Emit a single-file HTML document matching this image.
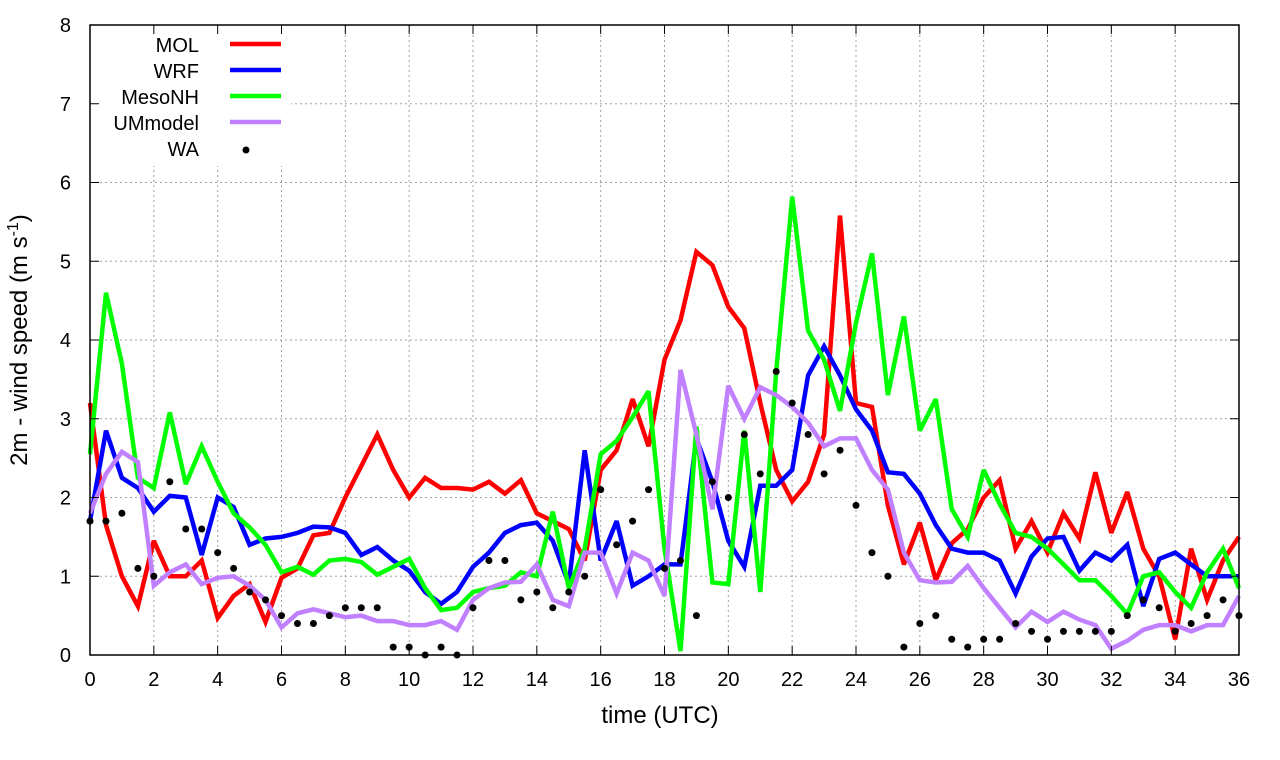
<!DOCTYPE html>
<html><head><meta charset="utf-8"><style>
html,body{margin:0;padding:0;background:#fff;}
svg{display:block;font-family:"Liberation Sans",sans-serif;}
</style></head><body>
<svg id="chart" width="1280" height="760" viewBox="0 0 1280 760" xmlns="http://www.w3.org/2000/svg">
<g id="grid"></g>
<g id="series"></g>
<g id="axes"></g>
<g id="legend"></g>
<text x="660" y="723" font-size="24" text-anchor="middle">time (UTC)</text>
<text transform="translate(27,340) rotate(-90)" font-size="24" text-anchor="middle">2m - wind speed  (m s<tspan dy="-9" font-size="16">-1</tspan><tspan dy="9">)</tspan></text>
</svg>
<script>
const xTicks=[0,2,4,6,8,10,12,14,16,18,20,22,24,26,28,30,32,34,36];
const yTicks=[0,1,2,3,4,5,6,7,8];
const seriesNames=["MOL","WRF","MesoNH","UMmodel"];
const seriesColors=["#ff0000","#0000ff","#00ff00","#c080ff"];
const MOL=[3.2,1.65,1.0,0.62,1.45,1.0,1.0,1.2,0.47,0.75,0.9,0.42,0.98,1.1,1.52,1.55,2.0,2.4,2.8,2.35,2.0,2.25,2.12,2.12,2.1,2.2,2.05,2.22,1.8,1.7,1.6,1.2,2.35,2.6,3.25,2.65,3.75,4.25,5.12,4.95,4.42,4.15,3.2,2.35,1.95,2.2,2.8,5.58,3.2,3.15,1.9,1.15,1.68,0.95,1.42,1.6,2.0,2.22,1.35,1.7,1.3,1.8,1.48,2.32,1.55,2.07,1.35,1.0,0.2,1.35,0.7,1.2,1.5];
const WRF=[1.7,2.85,2.25,2.12,1.82,2.02,2.0,1.27,2.0,1.88,1.4,1.48,1.5,1.55,1.63,1.62,1.55,1.27,1.37,1.2,1.07,0.8,0.65,0.8,1.12,1.3,1.55,1.65,1.68,1.45,0.9,2.6,1.2,1.7,0.88,1.0,1.15,1.15,2.75,2.2,1.45,1.12,2.15,2.15,2.35,3.55,3.92,3.55,3.12,2.85,2.32,2.3,2.05,1.65,1.35,1.3,1.3,1.2,0.78,1.25,1.48,1.5,1.07,1.3,1.2,1.4,0.62,1.22,1.3,1.15,1.0,1.0,1.0];
const MesoNH=[2.55,4.6,3.7,2.25,2.12,3.08,2.17,2.65,2.2,1.8,1.62,1.4,1.05,1.12,1.02,1.2,1.22,1.18,1.02,1.12,1.22,0.85,0.57,0.6,0.8,0.85,0.88,1.05,1.0,1.82,0.85,1.35,2.55,2.72,3.02,3.35,1.35,0.05,2.9,0.92,0.9,2.85,0.8,3.6,5.82,4.12,3.75,3.1,4.22,5.1,3.3,4.3,2.85,3.25,1.85,1.5,2.35,1.92,1.55,1.5,1.35,1.15,0.95,0.95,0.75,0.52,1.0,1.05,0.8,0.6,1.05,1.35,0.85];
const UMmodel=[1.8,2.3,2.58,2.45,0.88,1.05,1.15,0.9,0.98,1.0,0.88,0.7,0.35,0.53,0.58,0.53,0.48,0.5,0.43,0.43,0.38,0.38,0.43,0.32,0.7,0.85,0.92,0.93,1.15,0.7,0.62,1.3,1.3,0.78,1.3,1.2,0.75,3.62,2.8,1.85,3.42,3.0,3.4,3.3,3.15,2.95,2.65,2.75,2.75,2.35,2.1,1.3,0.95,0.92,0.93,1.13,0.85,0.6,0.35,0.55,0.42,0.55,0.45,0.38,0.08,0.18,0.32,0.38,0.38,0.3,0.38,0.38,0.75];
const WA=[1.7,1.7,1.8,1.1,1.0,2.2,1.6,1.6,1.3,1.1,0.8,0.7,0.5,0.4,0.4,0.5,0.6,0.6,0.6,0.1,0.1,0,0.1,0,0.6,1.2,1.2,0.7,0.8,0.6,0.8,1.0,2.1,1.4,1.7,2.1,1.1,1.2,0.5,2.2,2.0,2.8,2.3,3.6,3.2,2.8,2.3,2.6,1.9,1.3,1.0,0.1,0.4,0.5,0.2,0.1,0.2,0.2,0.4,0.3,0.2,0.3,0.3,0.3,0.3,0.5,0.7,0.6,0.3,0.4,0.5,0.7,0.5];
const seriesData=[MOL,WRF,MesoNH,UMmodel];

const NS="http://www.w3.org/2000/svg";
const L=90,R=1239,T=25,B=655;
function sx(t){return L+(R-L)*t/36;}
function sy(v){return B-(B-T)*v/8;}
function mk(tag,attrs,parent){const e=document.createElementNS(NS,tag);for(const k in attrs)e.setAttribute(k,attrs[k]);parent.appendChild(e);return e;}
const grid=document.getElementById('grid'),axes=document.getElementById('axes'),ser=document.getElementById('series'),leg=document.getElementById('legend');

xTicks.forEach(t=>{
  const g=mk('line',{x1:sx(t),x2:sx(t),y1:T,y2:B,stroke:'#a0a0a0','stroke-width':1,'stroke-dasharray':'2,3'},grid);
  
  
  mk('line',{x1:sx(t),x2:sx(t),y1:B,y2:B-9,stroke:'#000','stroke-width':1},axes);
  mk('line',{x1:sx(t),x2:sx(t),y1:T,y2:T+9,stroke:'#000','stroke-width':1},axes);
  const lb=mk('text',{x:sx(t),y:B+31,'font-size':20,'text-anchor':'middle'},axes);
  lb.textContent=t;
  
  
});
yTicks.forEach(v=>{
  const g=mk('line',{x1:L,x2:R,y1:sy(v),y2:sy(v),stroke:'#a0a0a0','stroke-width':1,'stroke-dasharray':'2,3'},grid);
  
  
  mk('line',{x1:L,x2:L+9,y1:sy(v),y2:sy(v),stroke:'#000','stroke-width':1},axes);
  mk('line',{x1:R,x2:R-9,y1:sy(v),y2:sy(v),stroke:'#000','stroke-width':1},axes);
  const lb=mk('text',{x:71,y:sy(v)+7,'font-size':20,'text-anchor':'end'},axes);
  lb.textContent=v;
  
  
});
const frame=mk('rect',{x:L,y:T,width:R-L,height:B-T,fill:'none',stroke:'#000','stroke-width':1.5},axes);



// legend background
mk('rect',{x:L+1,y:T+1,width:200,height:140,fill:'#fff'},grid);

seriesData.forEach((arr,i)=>{
  const pts=arr.map((v,j)=>sx(j*0.5).toFixed(1)+','+sy(v).toFixed(1)).join(' ');
  const p=mk('polyline',{points:pts,fill:'none',stroke:seriesColors[i],'stroke-width':4.5,'stroke-linejoin':'miter','stroke-miterlimit':3},ser);
  
  
});
WA.forEach((v,j)=>{
  const c=mk('circle',{cx:sx(j*0.5),cy:sy(v),r:3.5,fill:'#000'},ser);
  
  
});

const legNames=seriesNames.concat(["WA"]);
legNames.forEach((n,i)=>{
  const y=44+i*26;
  const t=mk('text',{x:199,y:y+8,'font-size':20,'text-anchor':'end'},leg);
  t.textContent=n;
  
  
  if(i<4){
    const l=mk('line',{x1:230,x2:281,y1:y,y2:y,stroke:seriesColors[i],'stroke-width':4.5},leg);
    
    
  } else {
    const c=mk('circle',{cx:246,cy:y+2,r:3.5,fill:'#000'},leg);
    
    
  }
});
</script>
</body></html>
